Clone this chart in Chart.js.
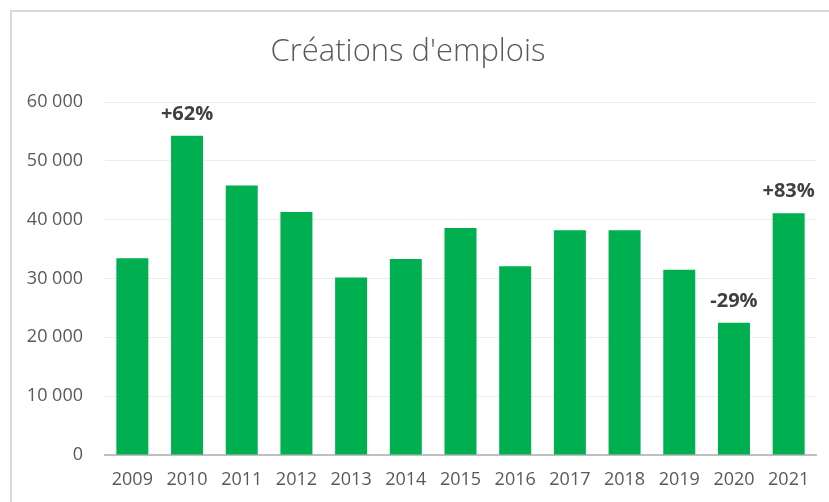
<!DOCTYPE html>
<html lang="fr">
<head>
<meta charset="utf-8">
<title>Créations d'emplois</title>
<script src="https://cdn.jsdelivr.net/npm/chart.js@4"></script>
<style>
  html, body { margin: 0; padding: 0; background: #fff; overflow: hidden; }
  #wrap { position: relative; width: 829px; height: 502px; }
  #frame {
    position: absolute; left: 10px; top: 10px; width: 900px; height: 600px;
    border-left: 2px solid #d9d9d9; border-top: 2px solid #d9d9d9;
    box-sizing: border-box; pointer-events: none;
  }
  canvas { position: absolute; left: 0; top: 0; }
</style>
</head>
<body>
<div id="wrap">
  <div id="frame"></div>
  <canvas id="jobsChart" width="829" height="502"></canvas>
</div>
<script>
  // Données
  const years = ['2009','2010','2011','2012','2013','2014','2015','2016','2017','2018','2019','2020','2021'];
  const creations = [33450, 54250, 45800, 41300, 30150, 33300, 38600, 32100, 38200, 38200, 31500, 22500, 41100];
  const variations = ['', '+62%', '', '', '', '', '', '', '', '', '', '-29%', '+83%'];

  const FONT = "'Open Sans', 'Noto Sans', sans-serif";
  const fmt = v => String(v).replace(/\B(?=(\d{3})+(?!\d))/g, ' ');

  // Étiquettes de variation au-dessus des barres
  const variationLabels = {
    id: 'variationLabels',
    afterDatasetsDraw(chart) {
      const ctx = chart.ctx;
      const meta = chart.getDatasetMeta(0);
      ctx.save();
      ctx.font = `bold 20px ${FONT}`;
      ctx.fillStyle = '#404040';
      ctx.textAlign = 'center';
      ctx.textBaseline = 'alphabetic';
      meta.data.forEach((bar, i) => {
        if (!variations[i]) return;
        ctx.fillText(variations[i], bar.x, bar.y - 16);
      });
      ctx.restore();
    }
  };

  new Chart(document.getElementById('jobsChart').getContext('2d'), {
    type: 'bar',
    data: {
      labels: years,
      datasets: [{
        label: "Créations d'emplois",
        data: creations,
        backgroundColor: '#00b050',
        borderWidth: 0,
        categoryPercentage: 1,
        barPercentage: 0.585
      }]
    },
    plugins: [variationLabels],
    options: {
      responsive: false,
      animation: false,
      devicePixelRatio: 1,
      layout: { padding: { left: 0, right: 13, top: 0, bottom: 0 } },
      plugins: {
        legend: { display: false },
        tooltip: { enabled: false },
        title: {
          display: true,
          text: "Créations d'emplois",
          color: '#595959',
          font: { family: FONT, size: 31, weight: '300', lineHeight: 1.2 },
          padding: { top: 34, bottom: 30.8 }
        }
      },
      scales: {
        x: {
          grid: { display: false, drawTicks: false },
          border: { display: true, color: '#bfbfbf', width: 2 },
          ticks: { color: '#595959', font: { family: FONT, size: 18 }, padding: 14, maxRotation: 0 },
          afterFit: s => { s.height = 47; }
        },
        y: {
          min: 0,
          max: 60000,
          grid: { color: '#ececec', lineWidth: 1, drawTicks: false },
          border: { display: false },
          ticks: {
            stepSize: 10000,
            color: '#595959',
            font: { family: FONT, size: 18 },
            padding: 22,
            callback: v => fmt(v)
          },
          afterFit: s => { s.width = 105; }
        }
      }
    }
  });
</script>
</body>
</html>
